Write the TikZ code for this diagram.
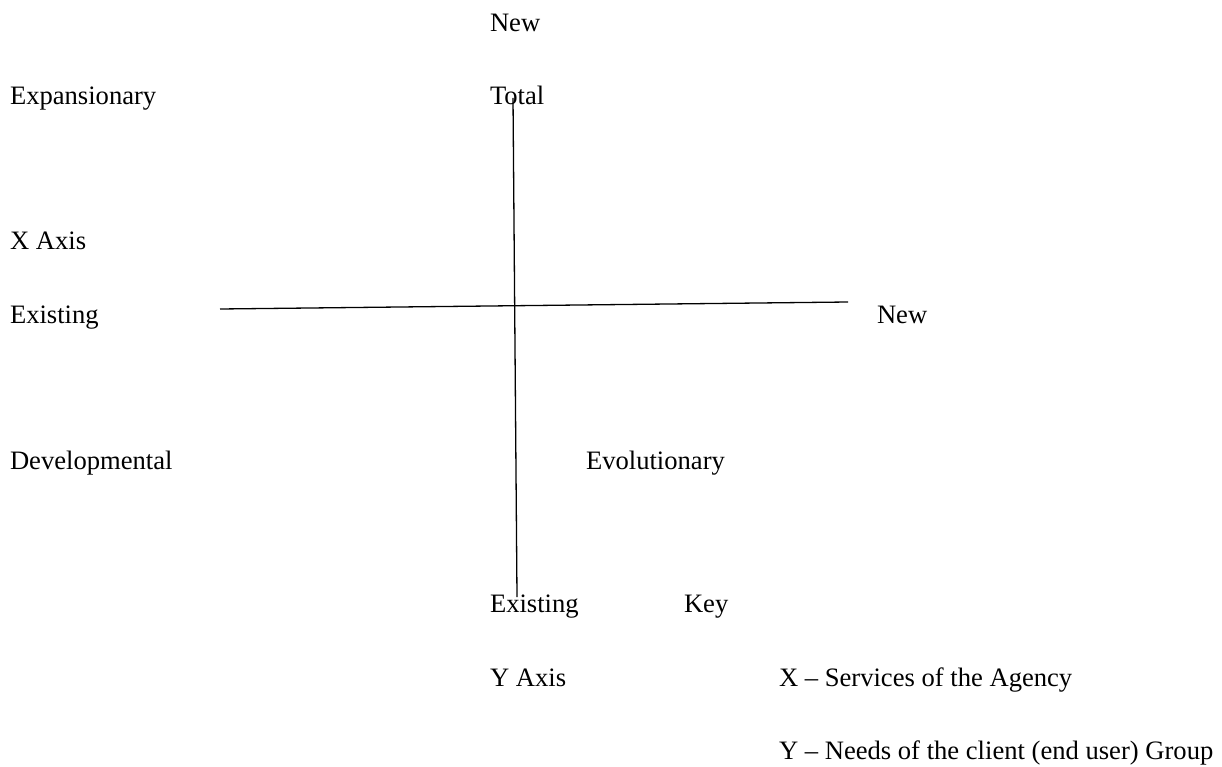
\documentclass[tikz,border=0pt]{standalone}
\usepackage{fontspec}
\setmainfont{Liberation Serif}
\begin{document}
\begin{tikzpicture}[x=1pt,y=-1pt,
  lbl/.style={anchor=base west,inner sep=0pt,outer sep=0pt,font=\fontsize{26.6pt}{32pt}\selectfont},
  axis/.style={draw=black,line width=1.3pt}]
\useasboundingbox (0,0) rectangle (1222,767);
\node[lbl] (newtop) at (490,32) {New};
\node[lbl] (expans) at (10,105) {Expansionary};
\node[lbl] (total) at (490,105) {Total};
\node[lbl] (xaxis) at (10,250) {X Axis};
\node[lbl] (exleft) at (10,323) {Existing};
\node[lbl] (newright) at (877,323) {New};
\node[lbl] (devel) at (10,469) {Developmental};
\node[lbl] (evol) at (586,469) {Evolutionary};
\node[lbl] (exbottom) at (490,612) {Existing};
\node[lbl] (key) at (684,612) {Key};
\node[lbl] (yaxis) at (490,686) {Y Axis};
\node[lbl] (xkey) at (779,686) {X -- Services of the Agency};
\node[lbl] (ykey) at (779,759) {Y -- Needs of the client (end user) Group};
\coordinate (vtop) at (513,98);
\coordinate (vbot) at (517,597);
\coordinate (hleft) at (220,309);
\coordinate (hright) at (848,302);
\draw[axis] (vtop) -- (vbot);
\draw[axis] (hleft) -- (hright);
\end{tikzpicture}
\end{document}
